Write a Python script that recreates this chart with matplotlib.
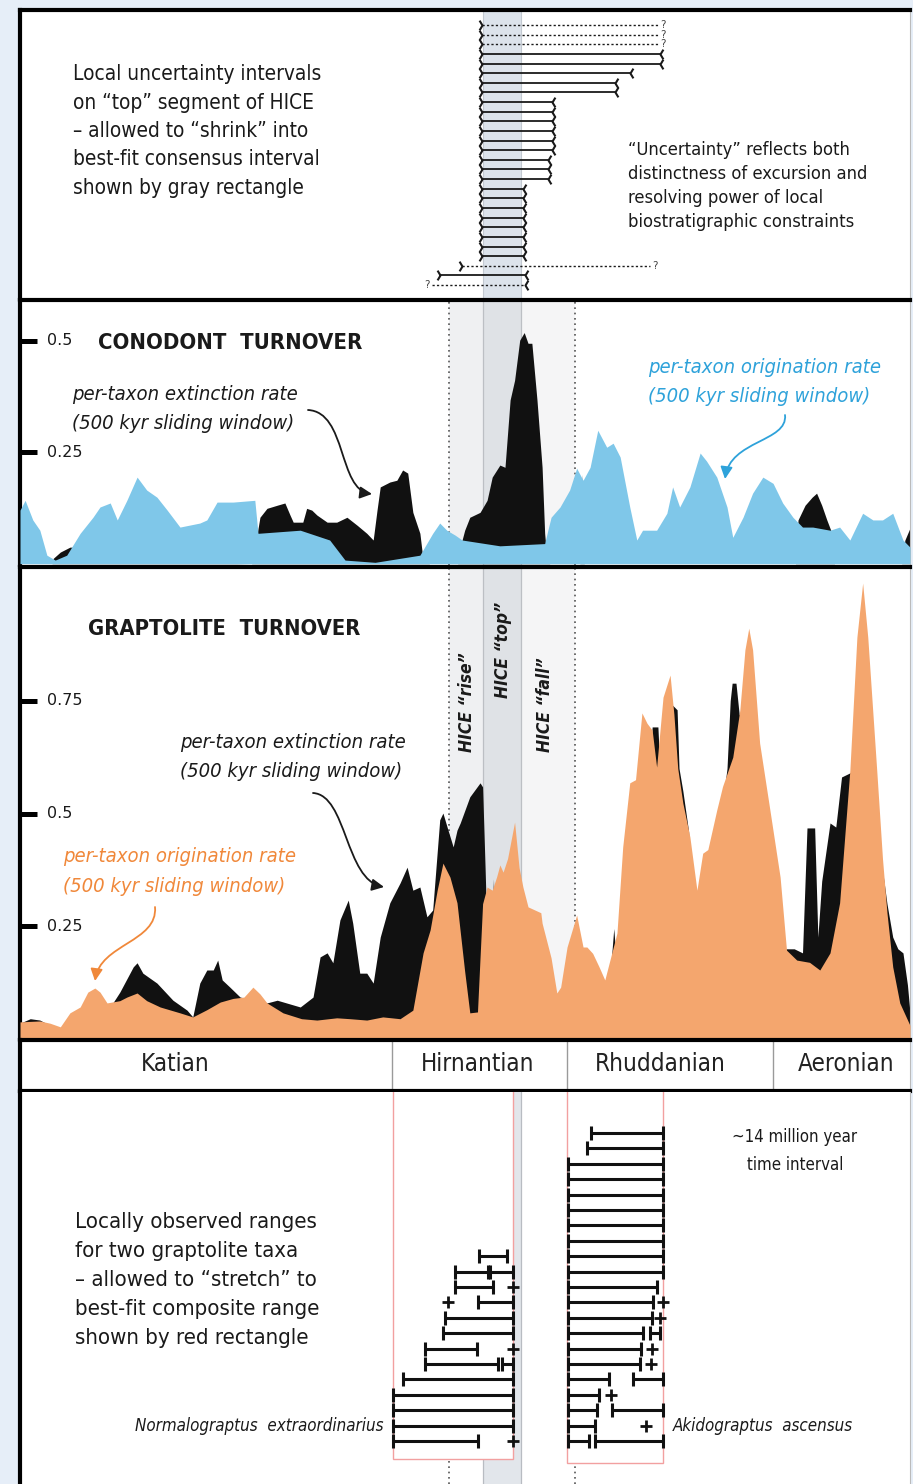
import os
import matplotlib
matplotlib.use('Agg')
import matplotlib.pyplot as plt
import numpy as np
from matplotlib.patches import Rectangle, FancyArrowPatch
from matplotlib.path import Path
from matplotlib.transforms import IdentityTransform
from matplotlib import font_manager as fm
from matplotlib.font_manager import FontProperties

# ---------------- data ----------------
# composite time axis: Myr from the start of the ~14 Myr interval
stage_names = ['Katian', 'Hirnantian', 'Rhuddanian', 'Aeronian']
stage_bounds = [5.81, 8.55, 11.77]
hice_rise = (6.70, 7.23)
hice_top = (7.23, 7.83)
hice_fall = (7.83, 8.67)

con_orig = [(0.00,0.120),(0.08,0.142),(0.20,0.098),(0.31,0.075),(0.42,0.019),(0.55,0.008),(0.73,0.019),
            (0.94,0.068),(1.14,0.104),(1.25,0.127),(1.41,0.136),(1.52,0.098),(1.67,0.142),(1.83,0.194),
            (1.98,0.165),(2.14,0.149),(2.30,0.120),(2.50,0.082),(2.81,0.091),(2.92,0.098),(3.08,0.138),
            (3.33,0.138),(3.67,0.142),(3.72,0.068),(4.38,0.075),(4.84,0.053),(5.08,0.008),(5.55,0.003),
            (6.25,0.019),(6.45,0.068),(6.56,0.091),(6.67,0.075),(6.80,0.064),(6.91,0.053),(7.50,0.040),
            (8.20,0.045),(8.25,0.075),(8.30,0.104),(8.44,0.127),(8.59,0.165),(8.70,0.214),(8.80,0.187),
            (8.91,0.216),(9.03,0.299),(9.17,0.261),(9.27,0.270),(9.38,0.239),(9.53,0.127),(9.64,0.053),
            (9.73,0.075),(9.95,0.075),(10.11,0.113),(10.20,0.172),(10.31,0.127),(10.47,0.172),(10.63,0.248),
            (10.73,0.230),(10.89,0.194),(11.05,0.127),(11.14,0.059),(11.30,0.104),(11.45,0.158),(11.61,0.194),
            (11.77,0.180),(11.92,0.136),(12.08,0.104),(12.23,0.082),(12.39,0.082),(12.66,0.075),(12.81,0.082),
            (12.97,0.053),(13.17,0.113),(13.33,0.098),(13.48,0.098),(13.64,0.113),(13.80,0.053),(13.91,0.037)]

con_ext = [(0.00,0.0),(0.50,0.0),(0.52,0.012),(0.63,0.026),(0.78,0.037),(0.91,0.037),(1.02,0.004),(3.62,0.0),
           (3.69,0.053),(3.75,0.104),(3.86,0.124),(4.02,0.131),(4.14,0.136),(4.22,0.109),(4.27,0.093),
           (4.42,0.093),(4.48,0.124),(4.56,0.120),(4.64,0.109),(4.80,0.093),(4.95,0.093),(5.11,0.104),
           (5.27,0.086),(5.42,0.068),(5.52,0.053),(5.58,0.120),(5.63,0.172),(5.78,0.183),(5.89,0.187),
           (5.98,0.210),(6.06,0.203),(6.14,0.115),(6.25,0.068),(6.30,0.008),(6.40,0.0),(6.84,0.0),
           (6.88,0.037),(6.95,0.075),(7.03,0.104),(7.19,0.115),(7.30,0.142),(7.38,0.194),(7.50,0.221),
           (7.58,0.216),(7.66,0.367),(7.73,0.411),(7.81,0.501),(7.88,0.518),(7.94,0.494),(8.00,0.494),
           (8.08,0.367),(8.16,0.216),(8.20,0.068),(8.23,0.019),(8.28,0.0),(8.75,0.0),(8.78,0.200),(8.82,0.0),
           (12.12,0.0),(12.16,0.098),(12.27,0.131),(12.38,0.149),(12.45,0.158),(12.53,0.131),(12.61,0.098),
           (12.69,0.068),(12.73,0.0),(13.78,0.0),(13.83,0.053),(13.91,0.080)]

gra_orig = [(0.00,0.038),(0.31,0.040),(0.47,0.035),(0.63,0.027),(0.78,0.058),(0.94,0.071),(1.06,0.104),
            (1.17,0.113),(1.25,0.104),(1.36,0.080),(1.56,0.085),(1.67,0.093),(1.83,0.102),(1.98,0.085),
            (2.19,0.071),(2.50,0.058),(2.70,0.049),(2.92,0.065),(3.13,0.082),(3.33,0.090),(3.50,0.093),
            (3.64,0.115),(3.75,0.100),(3.86,0.080),(4.11,0.058),(4.40,0.045),(4.64,0.042),(4.95,0.047),
            (5.16,0.045),(5.42,0.042),(5.67,0.049),(5.94,0.045),(6.14,0.064),(6.30,0.191),(6.41,0.242),
            (6.52,0.330),(6.61,0.390),(6.72,0.359),(6.83,0.302),(6.95,0.150),(7.03,0.058),(7.15,0.060),
            (7.23,0.300),(7.30,0.337),(7.38,0.330),(7.45,0.360),(7.50,0.386),(7.55,0.370),(7.62,0.400),
            (7.73,0.481),(7.80,0.380),(7.86,0.337),(7.94,0.293),(8.14,0.280),(8.16,0.257),(8.30,0.180),
            (8.39,0.102),(8.45,0.115),(8.55,0.204),(8.70,0.275),(8.80,0.204),(8.86,0.204),(8.95,0.190),
            (9.05,0.160),(9.14,0.131),(9.22,0.175),(9.33,0.235),(9.42,0.426),(9.53,0.568),(9.62,0.575),
            (9.72,0.723),(9.80,0.700),(9.88,0.685),(9.95,0.603),(10.05,0.758),(10.16,0.807),(10.22,0.720),
            (10.28,0.600),(10.36,0.523),(10.47,0.448),(10.58,0.330),(10.67,0.412),(10.75,0.420),(10.89,0.508),
            (10.98,0.560),(11.14,0.625),(11.25,0.729),(11.33,0.863),(11.39,0.911),(11.45,0.863),(11.56,0.656),
            (11.72,0.508),(11.88,0.359),(11.98,0.197),(12.14,0.175),(12.34,0.170),(12.50,0.153),(12.66,0.191),
            (12.81,0.302),(12.97,0.596),(13.08,0.891),(13.17,1.011),(13.25,0.891),(13.39,0.596),(13.48,0.400),
            (13.55,0.280),(13.64,0.160),(13.75,0.080),(13.91,0.030)]

gra_ext = [(0.00,0.035),(0.16,0.045),(0.31,0.042),(0.47,0.030),(0.60,0.020),(1.30,0.020),(1.41,0.071),
           (1.56,0.104),(1.77,0.160),(1.83,0.169),(1.92,0.146),(2.14,0.124),(2.39,0.086),(2.61,0.064),
           (2.70,0.049),(2.81,0.124),(2.92,0.153),(3.02,0.153),(3.09,0.175),(3.16,0.131),(3.28,0.115),
           (3.44,0.093),(3.86,0.080),(4.02,0.086),(4.38,0.071),(4.58,0.093),(4.69,0.182),(4.80,0.191),
           (4.89,0.169),(5.00,0.264),(5.13,0.308),(5.20,0.257),(5.31,0.146),(5.42,0.146),(5.52,0.124),
           (5.63,0.226),(5.78,0.302),(5.94,0.346),(6.05,0.381),(6.14,0.330),(6.25,0.337),(6.36,0.271),
           (6.45,0.286),(6.56,0.486),(6.61,0.501),(6.69,0.463),(6.77,0.426),(6.83,0.463),(6.88,0.479),
           (7.03,0.537),(7.19,0.568),(7.23,0.559),(7.27,0.375),(7.30,0.226),(7.34,0.100),(7.40,0.355),
           (7.44,0.100),(9.20,0.100),(9.28,0.245),(9.36,0.100),(9.85,0.600),(9.88,0.692),(9.97,0.692),
           (10.00,0.600),(10.20,0.740),(10.27,0.730),(10.30,0.600),(10.36,0.550),(10.45,0.460),(10.50,0.300),
           (10.80,0.300),(10.89,0.419),(11.05,0.600),(11.10,0.750),(11.13,0.789),(11.19,0.789),(11.24,0.720),
           (11.30,0.700),(11.80,0.300),(11.95,0.200),(12.10,0.200),(12.23,0.191),(12.30,0.468),(12.42,0.468),
           (12.47,0.226),(12.53,0.350),(12.66,0.479),(12.75,0.470),(12.84,0.581),(12.97,0.590),(13.05,0.600),
           (13.40,0.500),(13.48,0.375),(13.55,0.300),(13.64,0.226),(13.72,0.200),(13.80,0.191),(13.87,0.120),
           (13.91,0.058)]

con_ticks = [0.25, 0.5]
gra_ticks = [0.25, 0.5, 0.75]

# top panel: local uncertainty intervals of the HICE "top" (row 0 = top)
unc_start = [7.22] * 25 + [6.91, 6.56, 6.44]
unc_end = [9.97, 9.97, 9.97, 10.00, 10.00, 9.53, 9.30, 9.30] + [8.31] * 6 + [8.25] * 3 + [7.86] * 8 + [9.84, 7.89, 7.89]
unc_dotted = [True] * 3 + [False] * 22 + [True, False, True]
unc_q_right = [0, 1, 2, 25]
unc_q_left = [27]

# bottom panel: local ranges (row 0 = bottom)
nx_ranges = [[(5.83, 7.16)], [(5.83, 7.70)], [(5.83, 7.70)], [(5.83, 7.70)], [(5.98, 7.70)],
             [(6.33, 7.47), (7.53, 7.70)], [(6.33, 7.14)], [(6.61, 7.70)], [(6.64, 7.70)],
             [(7.16, 7.70)], [(6.80, 7.39)], [(6.80, 7.31), (7.34, 7.70)], [(7.17, 7.61)]]
nx_points = [[7.70], [], [], [], [], [], [7.70], [], [], [6.69], [7.70], [], []]
ak_ranges = [[(8.56, 8.89), (8.98, 10.05)], [(8.56, 8.98)], [(8.56, 9.02), (9.25, 10.05)], [(8.56, 9.05)],
             [(8.56, 9.20), (9.58, 10.05)], [(8.56, 9.69)], [(8.56, 9.70)], [(8.56, 9.73), (9.84, 10.00)],
             [(8.56, 9.875)], [(8.56, 9.89)], [(8.56, 9.95)]] + [[(8.56, 10.05)]] * 8 + [[(8.86, 10.05)], [(8.92, 10.05)]]
ak_points = [[], [9.78], [], [9.23], [], [9.86], [9.88], [], [10.00], [10.05], []] + [[]] * 10
nx_box = (5.83, 7.70)
ak_box = (8.55, 10.05)

major_ticks = np.arange(0.92, 13.91, 1.0)
minor_ticks = np.arange(0.02, 13.91, 0.1)

# ---------------- fonts ----------------
W, H = 913, 1484
files = {os.path.basename(f.fname): f.fname for f in fm.fontManager.ttflist}
font_sets = [
    ('LiberationSansNarrow-Regular.ttf', 'LiberationSansNarrow-Italic.ttf',
     'LiberationSansNarrow-Bold.ttf', 'LiberationSansNarrow-BoldItalic.ttf'),
    ('NotoSans-Condensed.ttf', 'NotoSans-CondensedItalic.ttf',
     'NotoSans-CondensedBold.ttf', 'NotoSans-CondensedBoldItalic.ttf'),
    ('DejaVuSansCondensed.ttf', 'DejaVuSansCondensed-Oblique.ttf',
     'DejaVuSansCondensed-Bold.ttf', 'DejaVuSansCondensed-BoldOblique.ttf'),
]
FP = None
for fs in font_sets:
    if all(n in files for n in fs):
        FP = {k: FontProperties(fname=files[n]) for k, n in zip(('r', 'i', 'b', 'bi'), fs)}
        break
if FP is None:
    FP = {'r': FontProperties(family=['Liberation Sans', 'DejaVu Sans']),
          'i': FontProperties(family=['Liberation Sans', 'DejaVu Sans'], style='italic'),
          'b': FontProperties(family=['Liberation Sans', 'DejaVu Sans'], weight='bold'),
          'bi': FontProperties(family=['Liberation Sans', 'DejaVu Sans'], weight='bold', style='italic')}

INK = '#1a1a1a'
BLUE = '#7fc7e9'
BLUE_T = '#2ea2da'
ORANGE = '#f4a66e'
ORANGE_T = '#f0883a'
BLACK = '#111111'
XMAX = 13.91

fig = plt.figure(figsize=(W / 100, H / 100), dpi=100)
fig.patch.set_facecolor('#e6eef8')
renderer = fig.canvas.get_renderer()


def add_ax(x0, y0, x1, y1):
    ax = fig.add_axes([x0 / W, 1 - y1 / H, (x1 - x0) / W, (y1 - y0) / H])
    ax.set_xlim(0, XMAX)
    ax.set_xticks([])
    ax.set_yticks([])
    for s in ax.spines.values():
        s.set_visible(False)
    ax.spines['left'].set_visible(True)
    ax.spines['left'].set_linewidth(3)
    ax.spines['left'].set_color('black')
    ax.spines['right'].set_visible(True)
    ax.spines['right'].set_linewidth(0.8)
    ax.spines['right'].set_color('#bbbbbb')
    return ax


def top_line(ax, lw=3):
    ax.spines['top'].set_visible(True)
    ax.spines['top'].set_linewidth(lw)
    ax.spines['top'].set_color('black')


def fit_size(s, style, target_w=None, target_h=None, rotation=0):
    t = fig.text(0, 0, s, fontproperties=FP[style].copy(), rotation=rotation)
    t.set_fontsize(10)
    bb = t.get_window_extent(renderer)
    t.remove()
    if target_w:
        return 10 * target_w / bb.width
    return 10 * target_h / bb.height


def line_pitch(t):
    try:
        _, info, _ = t._get_layout(renderer)
        ys = [e[-1] for e in info]
        return (ys[0] - ys[-1]) / (len(ys) - 1)
    except Exception:
        n = t.get_text().count('\n')
        return t.get_window_extent(renderer).height / (n + 1)


def ftext(px, py, s, style='r', size=None, target_w=None, target_h=None, pitch=None, **kw):
    kw.setdefault('color', INK)
    rot = kw.get('rotation', 0)
    if size is None:
        size = fit_size(s, style, target_w, target_h, rot)
    fp = FP[style].copy()
    fp.set_size(size)
    t = fig.text(px / W, 1 - py / H, s, fontproperties=fp, **kw)
    if pitch and '\n' in s:
        t.set_linespacing(1.0)
        p1 = line_pitch(t)
        t.set_linespacing(2.0)
        p2 = line_pitch(t)
        a = p2 - p1
        d = p1 - a
        t.set_linespacing(max(0.5, (pitch - d) / a))
    return size


def unzip(pairs):
    return np.array([p[0] for p in pairs]), np.array([p[1] for p in pairs])


def bands(ax):
    ax.axvspan(*hice_rise, color='#eff0f2', lw=0, zorder=0)
    ax.axvspan(*hice_top, color='#dfe2e6', lw=0, zorder=0)
    ax.axvspan(*hice_fall, color='#f5f5f6', lw=0, zorder=0)
    for xv in hice_top:
        ax.axvline(xv, color='#bcbfc4', lw=0.9, zorder=0.5)
    for xv in (hice_rise[0], hice_fall[1]):
        ax.axvline(xv, color='#555555', lw=1.2, ls=(0, (1, 2.2)), zorder=0.6)


# ---------------- top panel ----------------
ax_top = add_ax(20, 10, 910, 299)
top_line(ax_top, 3)
ax_top.set_ylim(28.45, -1.56)
ax_top.axvspan(*hice_top, color='#dce3eb', lw=0, zorder=0)
for xv in hice_top:
    ax_top.axvline(xv, color='#c3c9d1', lw=0.8, zorder=0.5)

left_br = Path([(-0.6, 1), (0, 0), (-0.6, -1)], [Path.MOVETO, Path.LINETO, Path.LINETO])
right_br = Path([(0.6, 1), (0, 0), (0.6, -1)], [Path.MOVETO, Path.LINETO, Path.LINETO])
for i, (a, b, dt) in enumerate(zip(unc_start, unc_end, unc_dotted)):
    ls = (0, (1.6, 1.6)) if dt else '-'
    ax_top.plot([a, b], [i, i], color=INK, lw=1.0 if dt else 1.3, ls=ls, zorder=3)
    if i not in unc_q_left:
        ax_top.plot([a], [i], marker=left_br, ms=7, mfc='none', mec=INK, mew=1.5, zorder=4)
    if i not in unc_q_right:
        ax_top.plot([b], [i], marker=right_br, ms=7, mfc='none', mec=INK, mew=1.5, zorder=4)
for i in unc_q_right:
    ax_top.text(unc_end[i] + 0.04, i, '?', fontsize=7.5, color='#444444', ha='left', va='center')
for i in unc_q_left:
    ax_top.text(unc_start[i] - 0.04, i, '?', fontsize=7.5, color='#444444', ha='right', va='center')

ftext(73, 131, 'Local uncertainty intervals\non \u201ctop\u201d segment of HICE\n\u2013 allowed to \u201cshrink\u201d into\n'
      'best-fit consensus interval\nshown by gray rectangle', target_w=249, pitch=28.3, ha='left', va='center')
ftext(628, 186, '\u201cUncertainty\u201d reflects both\ndistinctness of excursion and\nresolving power of local\n'
      'biostratigraphic constraints', target_w=240, pitch=24, ha='left', va='center')

# ---------------- conodont panel ----------------
ax_con = add_ax(20, 300, 910, 565)
top_line(ax_con, 3)
ax_con.set_ylim(-0.003, 0.591)
bands(ax_con)
x, y = unzip(con_ext)
ax_con.fill_between(x, 0, y, color=BLACK, lw=0, zorder=2)
x, y = unzip(con_orig)
ax_con.fill_between(x, 0, y, color=BLUE, lw=0, zorder=3)
ax_con.set_yticks(con_ticks)
ax_con.tick_params(axis='y', direction='in', length=12, width=3.6, color='black', labelleft=False)
for v in con_ticks:
    ax_con.text(0.030, v, f'{v:g}', transform=ax_con.get_yaxis_transform(), fontsize=11.5,
                fontfamily='DejaVu Sans', color=INK, va='center', ha='left')

ftext(98, 343, 'CONODONT  TURNOVER', 'b', target_w=262, ha='left', va='center')
lab_size = ftext(72, 409, 'per-taxon extinction rate\n(500 kyr sliding window)', 'i', target_w=225, pitch=28.5,
                 ha='left', va='center')
ftext(648, 382, 'per-taxon origination rate\n(500 kyr sliding window)', 'i', size=lab_size, pitch=29,
      ha='left', va='center', color=BLUE_T)

# ---------------- graptolite panel ----------------
ax_gra = add_ax(20, 567, 910, 1039)
top_line(ax_gra, 3)
ax_gra.set_ylim(0, 1.0466)
bands(ax_gra)
x, y = unzip(gra_ext)
ax_gra.fill_between(x, 0, y, color=BLACK, lw=0, zorder=2)
x, y = unzip(gra_orig)
ax_gra.fill_between(x, 0, y, color=ORANGE, lw=0, zorder=3)
ax_gra.set_yticks(gra_ticks)
ax_gra.tick_params(axis='y', direction='in', length=12, width=3.6, color='black', labelleft=False)
for v in gra_ticks:
    ax_gra.text(0.030, v, f'{v:g}', transform=ax_gra.get_yaxis_transform(), fontsize=11.5,
                fontfamily='DejaVu Sans', color=INK, va='center', ha='left')

ftext(88, 629, 'GRAPTOLITE  TURNOVER', 'b', target_w=272, ha='left', va='center')
ftext(180, 757, 'per-taxon extinction rate\n(500 kyr sliding window)', 'i', size=lab_size, pitch=29,
      ha='left', va='center')
ftext(63, 872, 'per-taxon origination rate\n(500 kyr sliding window)', 'i', size=lab_size, pitch=30,
      ha='left', va='center', color=ORANGE_T)
hs = fit_size('HICE \u201ctop\u201d', 'bi', target_h=96, rotation=90)
ftext(467, 702, 'HICE \u201crise\u201d', 'bi', size=hs, rotation=90, ha='center', va='center')
ftext(503, 650, 'HICE \u201ctop\u201d', 'bi', size=hs, rotation=90, ha='center', va='center')
ftext(545, 705, 'HICE \u201cfall\u201d', 'bi', size=hs, rotation=90, ha='center', va='center')

# ---------------- stage bar + ruler ----------------
ax_st = add_ax(20, 1040, 910, 1091)
top_line(ax_st, 3)
ax_st.spines['bottom'].set_visible(True)
ax_st.spines['bottom'].set_linewidth(3)
ax_st.spines['bottom'].set_color('black')
ax_st.set_ylim(0, 1)
for b in stage_bounds:
    ax_st.axvline(b, color='#9a9a9a', lw=1.0)
ax_st.set_xticks(major_ticks)
ax_st.set_xticks(minor_ticks, minor=True)
ax_st.tick_params(axis='x', which='major', direction='out', length=9.5, width=1.6, color='black', labelbottom=False)
ax_st.tick_params(axis='x', which='minor', direction='out', length=4.5, width=1.2, color='black')
stage_label_px = [175, 478, 660, 846]
ss = fit_size('Rhuddanian', 'r', target_w=131)
for name, px in zip(stage_names, stage_label_px):
    ftext(px, 1064, name, size=ss, ha='center', va='center', color='#222222')

# ---------------- bottom panel ----------------
ax_bot = add_ax(20, 1092, 910, 1484)
ax_bot.set_ylim(-2.79, 22.66)
ax_bot.axvspan(*hice_top, color='#e2e6eb', lw=0, zorder=0)
for xv in hice_top:
    ax_bot.axvline(xv, color='#b8bcc2', lw=0.9, zorder=0.5)
for xv in (hice_rise[0], hice_fall[1]):
    ax_bot.axvline(xv, color='#555555', lw=1.2, ls=(0, (1, 2.2)), zorder=0.6)
ax_bot.add_patch(Rectangle((nx_box[0], -1.15), nx_box[1] - nx_box[0], 30, facecolor='white',
                           edgecolor='#f2a0a0', lw=1.0, zorder=1))
ax_bot.add_patch(Rectangle((ak_box[0], -1.45), ak_box[1] - ak_box[0], 30, facecolor='white',
                           edgecolor='#f2a0a0', lw=1.0, zorder=1))


def draw_ranges(ranges, points):
    for row, (rr, pp) in enumerate(zip(ranges, points)):
        for a, b in rr:
            ax_bot.plot([a, b], [row, row], color=BLACK, lw=2.2, solid_capstyle='butt', zorder=3)
            ax_bot.plot([a, b], [row, row], ls='none', marker='|', ms=9.5, mew=2.2, color=BLACK, zorder=3)
        for p in pp:
            ax_bot.plot([p], [row], ls='none', marker='+', ms=8, mew=2.0, color=BLACK, zorder=3)


draw_ranges(nx_ranges, nx_points)
draw_ranges(ak_ranges, ak_points)

ftext(75, 1280, 'Locally observed ranges\nfor two graptolite taxa\n\u2013 allowed to \u201cstretch\u201d to\n'
      'best-fit composite range\nshown by red rectangle', target_w=245, pitch=28.8, ha='left', va='center')
ftext(795, 1151, '~14 million year\ntime interval', target_w=125, pitch=27, ha='center', va='center')
sp = ftext(383, 1426, 'Normalograptus  extraordinarius', 'i', target_w=248, ha='right', va='center')
ftext(673, 1426, 'Akidograptus  ascensus', 'i', size=sp, ha='left', va='center')

# ---------------- curved arrows ----------------
def curved_arrow(p0, p1, p2, p3, color):
    verts = [(px, H - py) for px, py in (p0, p1, p2, p3)]
    path = Path(verts, [Path.MOVETO, Path.CURVE4, Path.CURVE4, Path.CURVE4])
    arr = FancyArrowPatch(path=path, arrowstyle='-|>,head_length=0.6,head_width=0.3', mutation_scale=12,
                          color=color, lw=1.3, transform=IdentityTransform(), zorder=10)
    fig.add_artist(arr)


curved_arrow((308, 410), (347, 412), (338, 490), (372, 494), INK)
curved_arrow((785, 415), (788, 442), (730, 440), (725, 479), BLUE_T)
curved_arrow((313, 793), (347, 795), (345, 880), (384, 887), INK)
curved_arrow((155, 907), (158, 942), (100, 944), (95, 981), ORANGE_T)

fig.savefig('out.png', dpi=100, facecolor=fig.get_facecolor())
